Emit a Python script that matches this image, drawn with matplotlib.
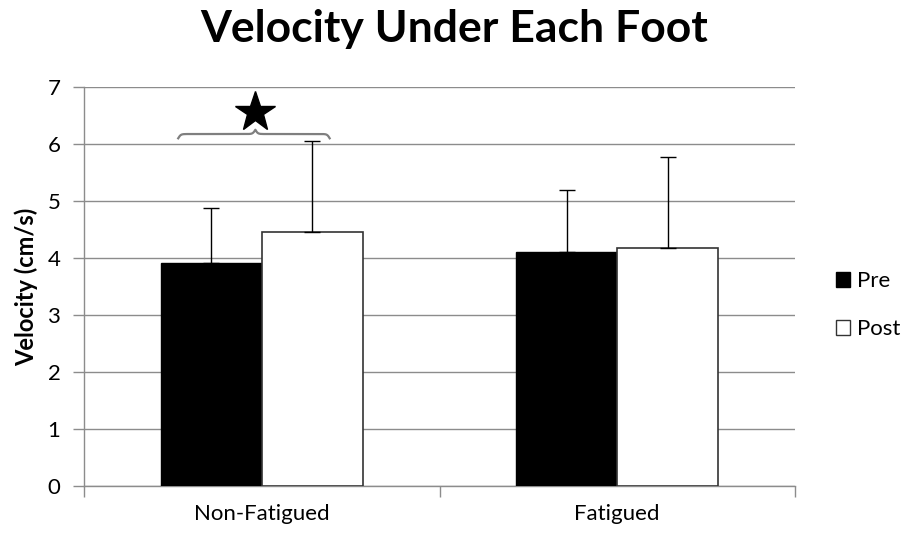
import numpy as np
import matplotlib
matplotlib.use("Agg")
import matplotlib.pyplot as plt
from matplotlib.patches import Patch

categories = ["Non-Fatigued", "Fatigued"]
series = ["Pre", "Post"]
pre_values = [3.91, 4.10]
post_values = [4.46, 4.17]
pre_err = [0.96, 1.10]
post_err = [1.59, 1.60]
yticks = [0, 1, 2, 3, 4, 5, 6, 7]

plt.rcParams['font.family'] = ['Lato', 'DejaVu Sans']

fig = plt.figure(figsize=(9.08, 5.35), dpi=100)
ax = fig.add_axes([84/908, 1-486/535, (795-84)/908, (486-87)/535])

x = np.arange(len(categories))
w = 0.284
grid_c = "#8c8c8c"

ax.bar(x - w/2, pre_values, w, color="black", edgecolor="black", linewidth=1, zorder=3,
       yerr=[np.zeros(2), pre_err], error_kw=dict(ecolor="black", elinewidth=1, capsize=6, capthick=1, zorder=4))
ax.bar(x + w/2, post_values, w, color="white", edgecolor="#333333", linewidth=1.2, zorder=3,
       yerr=[np.zeros(2), post_err], error_kw=dict(ecolor="black", elinewidth=1, capsize=6, capthick=1, zorder=4))

ax.set_xlim(-0.5, 1.5)
ax.set_ylim(0, 7)
ax.set_yticks(yticks)
ax.yaxis.grid(True, color=grid_c, linewidth=1)
ax.set_axisbelow(True)
ax.tick_params(axis='y', length=8, color=grid_c, labelsize=16, pad=9, width=1)
ax.set_xticks([-0.5, 0.5, 1.5])
ax.set_xticklabels([])
ax.set_xticks(x, minor=True)
ax.set_xticklabels(categories, minor=True)
ax.tick_params(axis='x', which='major', length=8, color=grid_c, width=1)
ax.tick_params(axis='x', which='minor', length=0, labelsize=16, pad=13)
for s in ["top", "right"]:
    ax.spines[s].set_visible(False)
for s in ["left", "bottom"]:
    ax.spines[s].set_color(grid_c)
    ax.spines[s].set_linewidth(1)

ax.set_ylabel("Velocity (cm/s)", fontsize=17, fontweight="bold", labelpad=7)
fig.text(0.5, 0.945, "Velocity Under Each Foot", ha="center", va="center",
         fontsize=32, fontweight="bold")

# significance brace over Non-Fatigued group
x0, x1 = x[0] - 0.235, x[0] + 0.191
xm = x[0] - 0.018
def half(xa, xb, n=100, beta=60.0):
    t = np.linspace(0, 1, n)
    yy = 1/(1+np.exp(-beta*t)) + 1/(1+np.exp(-beta*(t-1))) - 0.5
    return xa + (xb - xa)*t, yy
lx, ly = half(x0, xm)
rx, ry = half(xm, x1)
ry = ry[::-1]
bx = np.concatenate([lx, rx])
by = np.concatenate([ly, ry])
by = 6.1 + (by - by.min())/(by.max()-by.min())*0.15
ax.plot(bx, by, color="#7f7f7f", linewidth=1.6, zorder=5, clip_on=False)
ax.plot([xm], [6.56], marker="*", markersize=30, color="black", zorder=6, clip_on=False)

handles = [Patch(facecolor="black", edgecolor="black"),
           Patch(facecolor="white", edgecolor="#333333")]
fig.legend(handles, series, loc="center left", bbox_to_anchor=(836/908, 1-305/535),
           frameon=False, fontsize=16, handlelength=0.65, handleheight=0.65,
           handletextpad=0.3, labelspacing=1.25, borderpad=0, borderaxespad=0)

fig.savefig("out.png", dpi=100)
